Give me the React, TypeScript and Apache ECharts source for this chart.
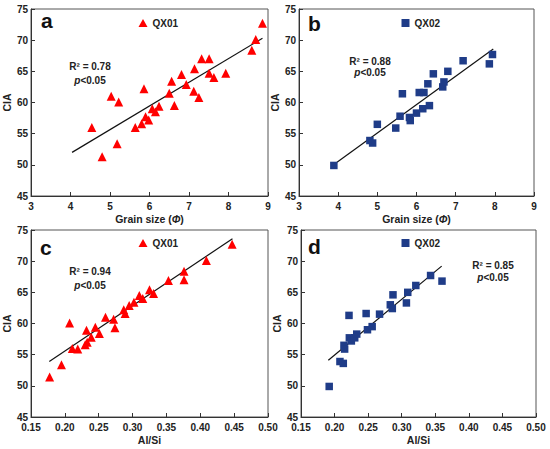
import React, { useEffect, useRef } from "react";
import * as echarts from "echarts";

// ---- data ----
const grainQX01: number[][] = [
  [4.54, 56.0], [4.8, 51.3], [5.03, 61.0], [5.22, 60.1], [5.18, 53.4], [5.64, 56.0],
  [5.8, 56.6], [5.86, 62.2], [5.9, 57.7], [5.98, 57.2], [6.07, 59.0], [6.15, 58.5],
  [6.24, 59.4], [6.5, 61.5], [6.56, 63.4], [6.63, 59.5], [6.81, 64.5], [6.93, 62.9],
  [7.12, 61.8], [7.14, 65.4], [7.25, 60.8], [7.32, 67.0], [7.51, 67.0], [7.51, 64.7],
  [7.63, 64.0], [7.93, 64.7], [8.59, 68.4], [8.69, 70.1], [8.86, 72.7],
];
const grainQX02: number[][] = [
  [3.89, 49.9], [4.81, 53.9], [4.88, 53.5], [5.0, 56.5], [5.47, 55.9], [5.58, 57.8],
  [5.64, 61.4], [5.82, 57.6], [5.84, 57.1], [6.0, 58.3], [6.07, 61.6], [6.19, 61.6],
  [6.16, 59.0], [6.29, 63.0], [6.33, 59.5], [6.43, 64.6], [6.67, 62.5], [6.7, 63.3],
  [6.8, 65.0], [7.19, 66.7], [7.86, 66.2], [7.94, 67.7],
];
const alsiQX01: number[][] = [
  [0.1775, 51.4], [0.195, 53.4], [0.207, 60.1], [0.211, 56.0], [0.219, 55.9], [0.232, 58.9],
  [0.23, 56.6], [0.233, 57.0], [0.239, 57.8], [0.245, 59.4], [0.251, 58.4], [0.26, 61.0],
  [0.272, 60.7], [0.274, 59.3], [0.287, 62.2], [0.289, 61.6], [0.295, 62.9], [0.302, 63.4],
  [0.31, 64.5], [0.315, 64.0], [0.325, 65.4], [0.331, 64.8], [0.353, 66.9], [0.376, 68.4],
  [0.376, 67.0], [0.409, 70.1], [0.447, 72.7],
];
const alsiQX02: number[][] = [
  [0.192, 49.9], [0.208, 53.9], [0.213, 53.6], [0.214, 56.5], [0.215, 55.9], [0.2215, 61.3],
  [0.222, 57.7], [0.225, 57.2], [0.23, 57.7], [0.233, 58.3], [0.247, 61.6], [0.249, 59.0],
  [0.256, 59.5], [0.267, 61.5], [0.283, 63.0], [0.286, 62.4], [0.287, 64.6], [0.307, 63.3],
  [0.309, 65.0], [0.321, 66.1], [0.343, 67.7], [0.36, 66.8],
];
// fitted regression lines (end points)
const fitGrainQX01: number[][] = [[4.04, 52.0], [8.86, 70.3]];
const fitGrainQX02: number[][] = [[3.97, 50.4], [7.96, 68.6]];
const fitAlsiQX01: number[][] = [[0.177, 53.9], [0.4475, 73.6]];
const fitAlsiQX02: number[][] = [[0.1907, 54.1], [0.3595, 69.2]];

const panelLetters = ["a", "b", "c", "d"];
const r2Labels = ["R² = 0.78", "R² = 0.88", "R² = 0.94", "R² = 0.85"];
const pLabel = "{i|p}<0.05";
const seriesNames = ["QX01", "QX02", "QX01", "QX02"];
const xNames = ["Grain size ({i|Φ})", "Grain size ({i|Φ})", "Al/Si", "Al/Si"];
const yName = "CIA";

const FONT = "Liberation Sans, Arial, sans-serif";
const RED = "#ff0000";
const BLUE = "#1f3c88";

export default function App() {
  const ref = useRef<HTMLDivElement>(null);
  useEffect(() => {
    if (!ref.current) return;
    const chart = echarts.init(ref.current, undefined, { renderer: "svg" });

    const grids = [
      { left: 31, top: 9, width: 237, height: 187 },
      { left: 299, top: 9, width: 235, height: 187 },
      { left: 31, top: 230, width: 237, height: 187 },
      { left: 301, top: 230, width: 235, height: 187 },
    ].map((g) => ({ ...g, show: true, borderColor: "#555", borderWidth: 1, backgroundColor: "transparent" }));

    const axisCommon = {
      axisLine: { show: true, lineStyle: { color: "#333", width: 1 } },
      axisTick: { show: true, inside: true, length: 4, lineStyle: { color: "#333" } },
      splitLine: { show: false },
      axisLabel: { color: "#222", fontWeight: "bold", fontSize: 10, fontFamily: FONT, margin: 3 },
      nameTextStyle: {
        color: "#222",
        fontWeight: "bold",
        fontSize: 10.5,
        fontFamily: FONT,
        rich: { i: { fontStyle: "italic", fontWeight: "bold", fontSize: 10.5, fontFamily: FONT, color: "#222" } },
      },
    };

    const xAxes = [0, 1, 2, 3].map((i) => {
      const grain = i < 2;
      return {
        ...axisCommon,
        type: "value",
        gridIndex: i,
        min: grain ? 3 : 0.15,
        max: grain ? 9 : 0.5,
        interval: grain ? 1 : 0.05,
        name: xNames[i],
        nameLocation: "middle",
        nameGap: 17,
        axisLabel: {
          ...axisCommon.axisLabel,
          margin: 5,
          formatter: (v: number) => (grain ? String(v) : v.toFixed(2)),
        },
      };
    });
    const yAxes = [0, 1, 2, 3].map((i) => ({
      ...axisCommon,
      type: "value",
      gridIndex: i,
      min: 45,
      max: 75,
      interval: 5,
      name: yName,
      nameLocation: "middle",
      nameGap: 17,
    }));

    const scatterData = [grainQX01, grainQX02, alsiQX01, alsiQX02];
    const fits = [fitGrainQX01, fitGrainQX02, fitAlsiQX01, fitAlsiQX02];

    const series: any[] = [];
    for (let i = 0; i < 4; i++) {
      const red = i % 2 === 0;
      series.push({
        type: "line",
        xAxisIndex: i,
        yAxisIndex: i,
        data: fits[i],
        showSymbol: false,
        symbol: "none",
        lineStyle: { color: "#111", width: 1.2 },
        silent: true,
        z: 2,
      });
      series.push({
        type: "scatter",
        name: seriesNames[i],
        xAxisIndex: i,
        yAxisIndex: i,
        data: scatterData[i],
        symbol: red ? "triangle" : "rect",
        symbolSize: red ? 9 : 7.5,
        itemStyle: { color: red ? RED : BLUE, opacity: 1 },
        z: 3,
      });
    }

    const legendPos = [
      { left: 138.5, top: 18 },
      { left: 401.5, top: 18 },
      { left: 138.5, top: 238 },
      { left: 401.5, top: 238 },
    ];
    const legends = legendPos.map((p, i) => ({
      ...p,
      data: [{ name: seriesNames[i], icon: i % 2 === 0 ? "triangle" : "rect" }],
      itemWidth: i % 2 === 0 ? 9 : 8,
      itemHeight: 8,
      itemGap: 0,
      padding: 0,
      selectedMode: false,
      textStyle: { color: "#222", fontWeight: "bold", fontSize: 10, fontFamily: FONT, padding: [0, 0, 0, 0] },
    }));

    const letterPos = [
      [41, 20],
      [308, 23],
      [40, 247],
      [308, 246],
    ];
    const r2Pos = [
      [90, 66.7, 80],
      [370, 61.7, 72.7],
      [90, 271.7, 285],
      [493, 265.7, 277.3],
    ];
    const graphics: any[] = [];
    for (let i = 0; i < 4; i++) {
      graphics.push({
        type: "text",
        x: letterPos[i][0],
        y: letterPos[i][1],
        silent: true,
        style: {
          text: panelLetters[i],
          fill: "#111",
          fontSize: 21,
          fontWeight: "bold",
          fontFamily: FONT,
          align: "left",
          verticalAlign: "middle",
        },
      });
      graphics.push({
        type: "text",
        x: r2Pos[i][0],
        y: r2Pos[i][1],
        silent: true,
        style: {
          text: r2Labels[i],
          fill: "#222",
          fontSize: 10,
          fontWeight: "bold",
          fontFamily: FONT,
          align: "center",
          verticalAlign: "middle",
        },
      });
      graphics.push({
        type: "text",
        x: r2Pos[i][0],
        y: r2Pos[i][2],
        silent: true,
        style: {
          text: pLabel,
          fill: "#222",
          fontSize: 10,
          fontWeight: "bold",
          fontFamily: FONT,
          align: "center",
          verticalAlign: "middle",
          rich: {
            i: { fontStyle: "italic", fontWeight: "bold", fontSize: 10, fontFamily: FONT, fill: "#222" },
          },
        },
      });
    }

    chart.setOption({
      animation: false,
      backgroundColor: "#ffffff",
      grid: grids,
      xAxis: xAxes,
      yAxis: yAxes,
      legend: legends,
      series,
      graphic: graphics,
    });
    return () => chart.dispose();
  }, []);

  return (
    <div
      ref={ref}
      style={{ position: "fixed", left: 0, top: 0, width: 550, height: 449, background: "#fff" }}
    />
  );
}
